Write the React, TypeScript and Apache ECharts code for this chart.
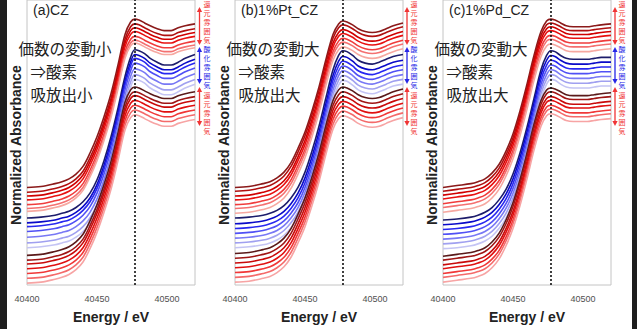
import { useEffect, useRef } from "react";
import * as echarts from "echarts";

const energy = [40400, 40410, 40420, 40425, 40430, 40435, 40440, 40445, 40450, 40455, 40460, 40465, 40470, 40474, 40477, 40480, 40484, 40488, 40493, 40498, 40503, 40508, 40513, 40520];

// Panel (a) CZ — reduced (red) and oxidised (blue) reference spectra, offset units
const redA = [102, 103, 106, 108, 111, 116, 124, 138, 155, 176, 200, 230, 262, 275, 278, 277, 274, 271, 268, 266, 266, 269, 271, 273];
const blueA = [70, 71, 73, 75, 77, 81, 87, 96, 110, 130, 155, 185, 218, 238, 246, 245, 242, 237, 233, 230, 230, 233, 237, 241];
const topOffsetsA = [0, -5, -9, -13, -18, -22, -25];
const blueOffsetsA = [0, -5, -9, -14, -20, -26, -31];
const bottomOffsetsA = [-71, -76, -80, -85, -90, -95, -100];

// Panel (b) 1%Pt_CZ
const redB = [102, 103, 106, 108, 112, 118, 128, 143, 160, 182, 207, 236, 262, 273, 276, 275, 272, 268, 265, 264, 265, 268, 271, 274];
const blueB = [70, 71, 73, 75, 78, 83, 91, 102, 118, 140, 166, 196, 225, 240, 245, 244, 240, 235, 232, 231, 233, 236, 239, 241];
const topOffsetsB = [0, -4, -9, -13, -18, -22, -27];
const blueOffsetsB = [0, -6, -11, -16, -21, -26, -31];
const bottomOffsetsB = [-69, -74, -79, -84, -89, -94, -99];

// Panel (c) 1%Pd_CZ
const redC = [102, 104, 106, 108, 111, 117, 126, 140, 158, 182, 210, 240, 265, 276, 278, 277, 274, 271, 270, 270, 270, 271, 272, 273];
const blueC = [68, 69, 71, 73, 76, 81, 89, 100, 116, 138, 165, 195, 225, 240, 245, 244, 240, 237, 236, 236, 236, 237, 238, 238];
const topOffsetsC = [0, -4, -8, -12, -17, -21, -26];
const blueOffsetsC = [0, -5, -10, -15, -20, -25, -30];
const bottomOffsetsC = [-72, -76, -81, -85, -90, -94, -99];

const topRedColors = ["#8B1A1A", "#B01010", "#D00000", "#E81010", "#F03C3C", "#F47070", "#F6A8A0"];
const blueColors = ["#1C1C6B", "#0A0AC8", "#2828F0", "#5050F5", "#7878F5", "#A0A0F0", "#C4C4F4"];
const bottomRedColors = ["#5A1A1A", "#A01515", "#C80A0A", "#E01010", "#F03838", "#F46A6A", "#F7A4A4"];

const panelTitles = ["(a)CZ", "(b)1%Pt_CZ", "(c)1%Pd_CZ"];
const panelNotes = [
  ["価数の変動小", "⇒酸素", "吸放出小"],
  ["価数の変動大", "⇒酸素", "吸放出大"],
  ["価数の変動大", "⇒酸素", "吸放出大"],
];
const reducedLabel = "還元雰囲気";
const oxidisedLabel = "酸化雰囲気";
const xMin = 40400;
const xMax = 40520;
const xInterval = 50;
const edgeMarker = 40477;
const yTitle = "Normalized Absorbance";
const xTitle = "Energy / eV";

const panels = [
  { red: redA, blue: blueA, top: topOffsetsA, mid: blueOffsetsA, bot: bottomOffsetsA },
  { red: redB, blue: blueB, top: topOffsetsB, mid: blueOffsetsB, bot: bottomOffsetsB },
  { red: redC, blue: blueC, top: topOffsetsC, mid: blueOffsetsC, bot: bottomOffsetsC },
];

const gridLefts = [27, 235, 443];
const gridWidth = 168;
const arrowX = [199.5, 407, 615];
const labelX = [207, 414, 622];
const yTitleX = [16, 224, 432];

const RED = "#F03434";
const BLUE = "#2626E6";
const FONT = "'Liberation Sans', Arial, sans-serif";
const JP = "'Noto Sans CJK JP', sans-serif";

function arrow(x: number, y1: number, y2: number, color: string) {
  return [
    { type: "line", z: 50, shape: { x1: x, y1: y1 + 3, x2: x, y2: y2 - 3 }, style: { stroke: color, lineWidth: 1.3 } },
    { type: "polygon", z: 50, shape: { points: [[x, y1], [x - 2.6, y1 + 5], [x + 2.6, y1 + 5]] }, style: { fill: color } },
    { type: "polygon", z: 50, shape: { points: [[x, y2], [x - 2.6, y2 - 5], [x + 2.6, y2 - 5]] }, style: { fill: color } },
  ];
}

function vtext(x: number, yFirst: number, step: number, s: string, color: string) {
  return s.split("").map((ch, i) => ({
    type: "text",
    z: 50,
    x,
    y: yFirst + i * step,
    style: {
      text: ch,
      fill: color,
      fontSize: 7,
      lineHeight: 7.5,
      fontFamily: JP,
      align: "center",
      verticalAlign: "middle",
    },
  }));
}

export default function App() {
  const ref = useRef<HTMLDivElement>(null);
  useEffect(() => {
    if (!ref.current) return;
    const chart = echarts.init(ref.current, undefined, { renderer: "svg" });

    const grids: any[] = [];
    const xAxes: any[] = [];
    const yAxes: any[] = [];
    const series: any[] = [];
    const graphic: any[] = [];

    panels.forEach((p, pi) => {
      grids.push({
        left: gridLefts[pi],
        width: gridWidth,
        top: -10,
        height: 298,
        show: true,
        borderColor: "#C4C4C4",
        borderWidth: 1,
        backgroundColor: "transparent",
      });
      xAxes.push({
        gridIndex: pi,
        type: "value",
        min: xMin,
        max: xMax,
        interval: xInterval,
        axisLine: { show: false },
        axisTick: { show: false },
        splitLine: { show: false },
        axisLabel: {
          color: "#505050",
          fontSize: 9,
          fontFamily: FONT,
          margin: 9,
          showMaxLabel: false,
          formatter: (v: number) => String(v),
        },
        name: xTitle,
        nameLocation: "middle",
        nameGap: 25,
        nameTextStyle: { fontSize: 14, fontWeight: "bold", color: "#222", fontFamily: FONT },
      });
      yAxes.push({ gridIndex: pi, type: "value", min: 0, max: 298, show: false });

      const groups = [
        { base: p.red, offs: p.top, colors: topRedColors },
        { base: p.blue, offs: p.mid, colors: blueColors },
        { base: p.red, offs: p.bot, colors: bottomRedColors },
      ];
      let first = true;
      groups.forEach((g) => {
        g.offs.forEach((off, i) => {
          const s: any = {
            type: "line",
            xAxisIndex: pi,
            yAxisIndex: pi,
            showSymbol: false,
            smooth: 0.35,
            data: energy.map((e, k) => [e, g.base[k] + off]),
            lineStyle: { color: g.colors[i], width: 1.6 },
            itemStyle: { color: g.colors[i] },
            silent: true,
          };
          if (first) {
            s.markLine = {
              silent: true,
              symbol: ["none", "none"],
              label: { show: false },
              lineStyle: { color: "#111", width: 1.6, type: [2, 2] },
              data: [{ xAxis: edgeMarker }],
            };
            first = false;
          }
          series.push(s);
        });
      });

      const L = gridLefts[pi];
      graphic.push({
        type: "text",
        x: L + 6,
        y: 10,
        z: 50,
        style: { text: panelTitles[pi], fontSize: 14, fontFamily: FONT, fill: "#222", align: "left", verticalAlign: "middle" },
      });
      const notes = panelNotes[pi];
      const noteStyle = { fontSize: 15.5, fontFamily: JP, fill: "#222", align: "left", verticalAlign: "middle" };
      graphic.push({ type: "text", x: L - 8.5, y: 47.5, z: 50, style: { ...noteStyle, text: notes[0] } });
      graphic.push({ type: "text", x: L + 3.5, y: 70.5, z: 50, style: { ...noteStyle, text: notes[1] } });
      graphic.push({ type: "text", x: L + 3.5, y: 93.5, z: 50, style: { ...noteStyle, text: notes[2] } });
      graphic.push({
        type: "text", x: yTitleX[pi], y: 145, rotation: Math.PI / 2, z: 50,
        style: { text: yTitle, fontSize: 14, fontWeight: "bold", fontFamily: FONT, fill: "#222", align: "center", verticalAlign: "middle" },
      });
      graphic.push(...arrow(arrowX[pi], 7, 45, RED));
      graphic.push(...arrow(arrowX[pi], 47, 84, BLUE));
      graphic.push(...arrow(arrowX[pi], 87, 126, RED));
      graphic.push(...vtext(labelX[pi], 4, 9, reducedLabel, RED));
      graphic.push(...vtext(labelX[pi], 49, 9, oxidisedLabel, BLUE));
      graphic.push(...vtext(labelX[pi], 95, 9, reducedLabel, RED));
    });

    graphic.push({ type: "rect", z: 60, shape: { x: 0, y: 0, width: 7, height: 329 }, style: { fill: "#1E1E1E" } });
    graphic.push({ type: "rect", z: 60, shape: { x: 632, y: 0, width: 5, height: 329 }, style: { fill: "#1E1E1E" } });

    chart.setOption({
      animation: false,
      backgroundColor: "#FFFFFF",
      grid: grids,
      xAxis: xAxes,
      yAxis: yAxes,
      series,
      graphic,
    });
    return () => chart.dispose();
  }, []);
  return (
    <div
      ref={ref}
      style={{ position: "fixed", left: 0, top: 0, width: 637, height: 329, background: "#fff" }}
    />
  );
}
